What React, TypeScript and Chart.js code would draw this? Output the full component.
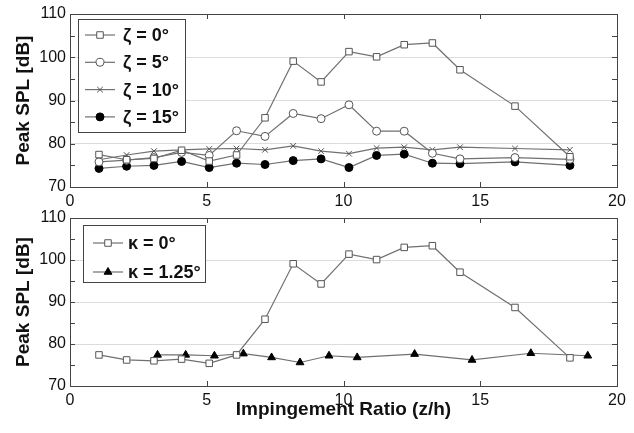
import React, { useEffect, useRef } from 'react';
import { Chart, registerables } from 'chart.js';
import { drawPoint } from 'chart.js/helpers';
Chart.register(...registerables);

// ---- data ----
const xZeta = [1.06, 2.07, 3.07, 4.08, 5.09, 6.09, 7.13, 8.16, 9.18, 10.2, 11.21, 12.22, 13.25, 14.26, 16.27, 18.28];
const zeta0 = [77.5, 76.3, 76.6, 78.5, 76.0, 77.4, 86.0, 99.1, 94.3, 101.3, 100.1, 102.9, 103.3, 97.1, 88.7, 77.0];
const zeta5 = [75.8, 76.2, 76.8, 78.0, 77.3, 83.0, 81.7, 87.0, 85.8, 89.0, 82.9, 82.9, 77.8, 76.5, 76.8, 76.4];
const zeta10 = [76.3, 77.4, 78.3, 78.6, 78.8, 78.9, 78.6, 79.5, 78.3, 77.7, 79.0, 79.2, 78.6, 79.2, 78.9, 78.6];
const zeta15 = [74.3, 74.8, 75.0, 75.9, 74.5, 75.5, 75.2, 76.1, 76.5, 74.5, 77.3, 77.6, 75.5, 75.4, 75.8, 75.0];

const kappa0 = [77.4, 76.2, 76.0, 76.4, 75.4, 77.4, 85.9, 99.1, 94.3, 101.4, 100.1, 103.0, 103.4, 97.1, 88.7, 76.7];
const xKappa125 = [3.2, 4.23, 5.28, 6.34, 7.37, 8.41, 9.47, 10.5, 12.6, 14.7, 16.85, 18.93];
const kappa125 = [77.4, 77.4, 77.2, 77.7, 76.8, 75.6, 77.2, 76.8, 77.6, 76.2, 77.8, 77.2];

const topLabels = ['ζ = 0°', 'ζ = 5°', 'ζ = 10°', 'ζ = 15°'];
const bottomLabels = ['κ = 0°', 'κ = 1.25°'];
const yTitle = 'Peak SPL [dB]';
const xTitle = 'Impingement Ratio (z/h)';

const FONT = "'Liberation Sans', Arial, sans-serif";
const LINE = '#707070';

const pts = (xs: number[], ys: number[]) => xs.map((x, i) => ({ x, y: ys[i] }));

const framePlugin = {
  id: 'frame',
  beforeDatasetsDraw(chart: any) {
    const { ctx, chartArea: a, scales } = chart;
    ctx.save();
    ctx.strokeStyle = '#444';
    ctx.lineWidth = 1;
    ctx.beginPath();
    scales.x.ticks.forEach((t: any) => {
      const x = Math.round(scales.x.getPixelForValue(t.value)) + 0.5;
      ctx.moveTo(x, a.bottom); ctx.lineTo(x, a.bottom - 5);
      ctx.moveTo(x, a.top); ctx.lineTo(x, a.top + 5);
    });
    scales.y.ticks.forEach((t: any) => {
      const y = Math.round(scales.y.getPixelForValue(t.value)) + 0.5;
      ctx.moveTo(a.left, y); ctx.lineTo(a.left + 5, y);
      ctx.moveTo(a.right, y); ctx.lineTo(a.right - 5, y);
    });
    ctx.stroke();
    ctx.strokeRect(Math.round(a.left) + 0.5, Math.round(a.top) + 0.5, Math.round(a.right - a.left), Math.round(a.bottom - a.top));
    ctx.restore();
  },
};

const boxLegendPlugin = {
  id: 'boxLegend',
  afterDraw(chart: any, _args: any, opts: any) {
    const { ctx, chartArea: a } = chart;
    const x0 = a.left + opts.dx;
    const y0 = a.top + opts.dy;
    ctx.save();
    ctx.fillStyle = '#fff';
    ctx.strokeStyle = '#444';
    ctx.lineWidth = 1;
    ctx.fillRect(x0, y0, opts.w, opts.h);
    ctx.strokeRect(Math.round(x0) + 0.5, Math.round(y0) + 0.5, opts.w, opts.h);
    chart.data.datasets.forEach((ds: any, i: number) => {
      const cy = y0 + opts.firstRow + i * opts.rowH;
      const lx = x0 + opts.lineX;
      ctx.strokeStyle = ds.borderColor;
      ctx.lineWidth = ds.borderWidth;
      ctx.beginPath();
      ctx.moveTo(lx, cy);
      ctx.lineTo(lx + opts.lineLen, cy);
      ctx.stroke();
      ctx.fillStyle = ds.pointBackgroundColor;
      ctx.strokeStyle = ds.pointBorderColor;
      ctx.lineWidth = ds.pointBorderWidth;
      drawPoint(ctx, { pointStyle: ds.pointStyle, radius: ds.pointRadius, borderWidth: ds.pointBorderWidth, rotation: 0 }, lx + opts.lineLen / 2, cy);
      ctx.fillStyle = '#111';
      ctx.font = `bold 18px ${FONT}`;
      ctx.textBaseline = 'middle';
      ctx.textAlign = 'left';
      ctx.fillText(ds.label, lx + opts.lineLen + opts.textGap, cy + 1);
    });
    ctx.restore();
  },
};

function makeDataset(label: string, data: any[], style: string, fill: string, border: string, radius: number) {
  return {
    label,
    data,
    borderColor: LINE,
    borderWidth: 1.2,
    pointStyle: style,
    pointRadius: radius,
    pointBackgroundColor: fill,
    pointBorderColor: border,
    pointBorderWidth: 1,
    showLine: true,
    tension: 0,
  };
}

function makeOptions(showXTitle: boolean, padTop: number, xAxisH: number, legend: any) {
  return {
    animation: false,
    responsive: true,
    maintainAspectRatio: false,
    layout: { padding: { top: padTop, right: 17, left: 0, bottom: 0 } },
    plugins: {
      legend: { display: false },
      tooltip: { enabled: false },
      boxLegend: legend,
    },
    scales: {
      x: {
        type: 'linear',
        min: 0,
        max: 20,
        ticks: { stepSize: 5, padding: 5, color: '#111', font: { size: 16, family: FONT } },
        grid: { display: false, drawTicks: false },
        border: { display: false },
        title: {
          display: showXTitle,
          text: xTitle,
          color: '#111',
          font: { size: 19, weight: 'bold', family: FONT },
          padding: { top: 0, bottom: 12 },
        },
        afterFit: (s: any) => { s.height = xAxisH; },
      },
      y: {
        type: 'linear',
        min: 70,
        max: 110,
        ticks: {
          stepSize: 5,
          autoSkip: false,
          padding: 4,
          color: '#111',
          font: { size: 16, family: FONT },
          callback: (v: any) => (v % 10 === 0 ? String(v) : ''),
        },
        grid: {
          drawTicks: false,
          color: (c: any) => {
            const v = c.tick && c.tick.value;
            return v % 10 === 0 && v > 70 && v < 110 ? '#dcdcdc' : 'rgba(0,0,0,0)';
          },
          lineWidth: 1,
        },
        border: { display: false },
        title: {
          display: true,
          text: yTitle,
          color: '#111',
          font: { size: 19, weight: 'bold', family: FONT },
          padding: { top: 12, bottom: 0 },
        },
        afterFit: (s: any) => { s.width = 70; },
      },
    },
  };
}

export default function App() {
  const topRef = useRef<HTMLCanvasElement>(null);
  const botRef = useRef<HTMLCanvasElement>(null);

  useEffect(() => {
    const top = new Chart(topRef.current as HTMLCanvasElement, {
      type: 'scatter',
      data: {
        datasets: [
          makeDataset(topLabels[0], pts(xZeta, zeta0), 'rect', '#fff', '#555', 4.6),
          makeDataset(topLabels[1], pts(xZeta, zeta5), 'circle', '#fff', '#555', 4),
          makeDataset(topLabels[2], pts(xZeta, zeta10), 'crossRot', '#fff', '#555', 4),
          makeDataset(topLabels[3], pts(xZeta, zeta15), 'circle', '#000', '#000', 4),
        ],
      },
      options: makeOptions(false, 14, 23, { dx: 8, dy: 5, w: 107, h: 113, firstRow: 16, rowH: 27.3, lineX: 7, lineLen: 30, textGap: 8 }) as any,
      plugins: [framePlugin, boxLegendPlugin],
    });
    const bot = new Chart(botRef.current as HTMLCanvasElement, {
      type: 'scatter',
      data: {
        datasets: [
          makeDataset(bottomLabels[0], pts(xZeta, kappa0), 'rect', '#fff', '#555', 4.6),
          makeDataset(bottomLabels[1], pts(xKappa125, kappa125), 'triangle', '#000', '#000', 4.5),
        ],
      },
      options: makeOptions(true, 23, 47, { dx: 13, dy: 7, w: 122, h: 57, firstRow: 18, rowH: 29, lineX: 10, lineLen: 30, textGap: 5 }) as any,
      plugins: [framePlugin, boxLegendPlugin],
    });
    return () => { top.destroy(); bot.destroy(); };
  }, []);

  return (
    <div style={{ position: 'absolute', left: 0, top: 0, width: 634, height: 433, background: '#fff' }}>
      <div style={{ position: 'absolute', left: 0, top: 0, width: 634, height: 210 }}>
        <canvas ref={topRef} />
      </div>
      <div style={{ position: 'absolute', left: 0, top: 195, width: 634, height: 238 }}>
        <canvas ref={botRef} />
      </div>
    </div>
  );
}
